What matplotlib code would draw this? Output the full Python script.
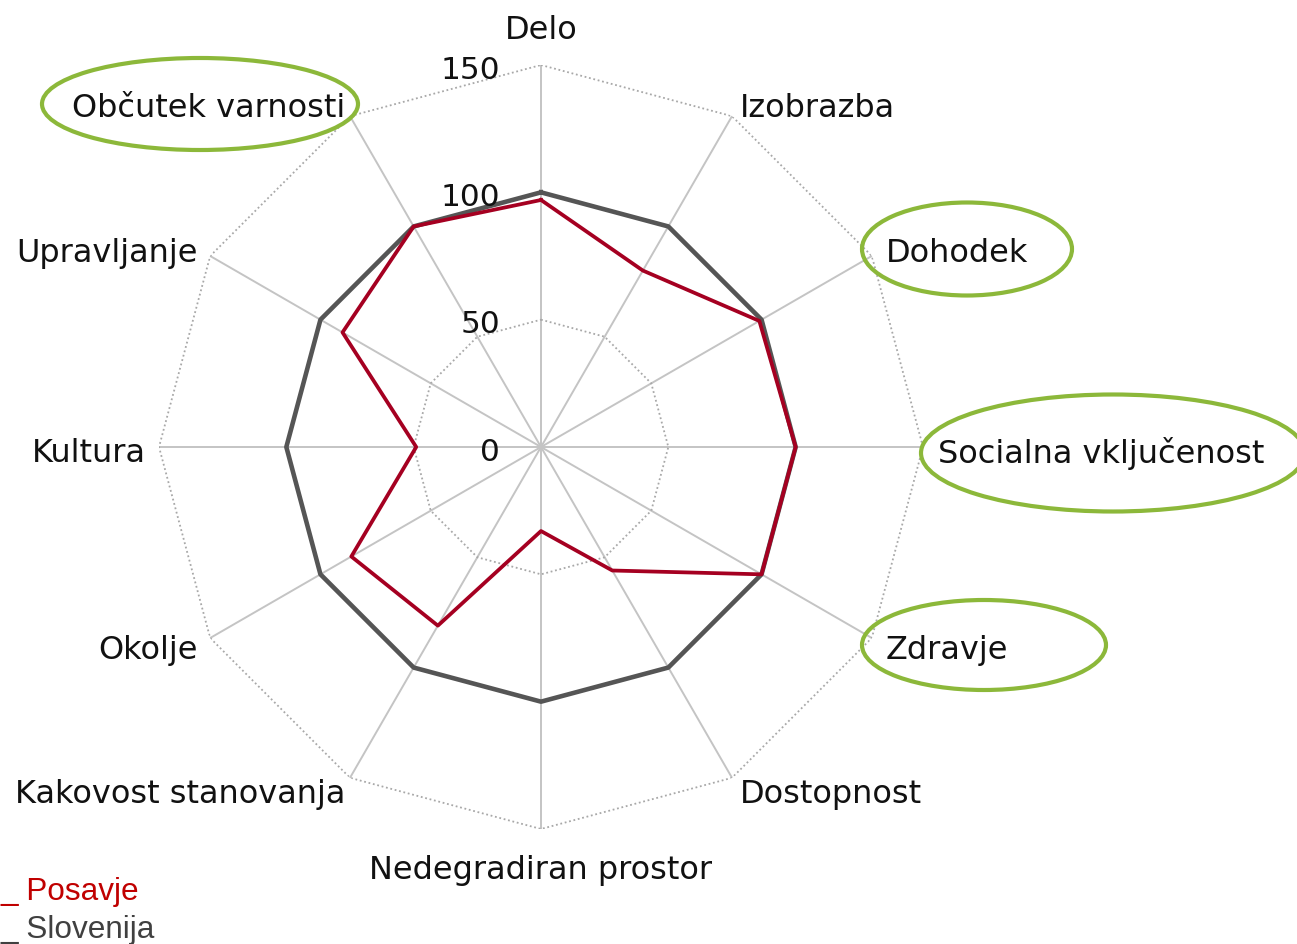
import numpy as np
import matplotlib
matplotlib.use('Agg')
import matplotlib.pyplot as plt
from matplotlib.patches import Ellipse

# podatki
categories = ['Delo', 'Izobrazba', 'Dohodek', 'Socialna vključenost', 'Zdravje',
              'Dostopnost', 'Nedegradiran prostor', 'Kakovost stanovanja',
              'Okolje', 'Kultura', 'Upravljanje', 'Občutek varnosti']
posavje = [97, 80, 99, 100, 100, 56, 33, 81, 86, 49, 90, 100]
slovenija = [100, 100, 100, 100, 100, 100, 100, 100, 100, 100, 100, 100]
rings = [50, 100, 150]
tick_values = [150, 100, 50, 0]

# odmiki oznak (piksli) od oglisca na 150
label_offsets = [(0, 35), (8, 8), (14, 3), (15, -6), (14, -12), (8, -17),
                 (0, -41), (-5, -17), (-12, -12), (-13, -6), (-12, 3), (-5, 8)]
highlighted = {'Občutek varnosti': (200, 104, 316, 92),
               'Dohodek': (967, 249, 210, 93),
               'Socialna vključenost': (1113, 453, 384, 117),
               'Zdravje': (984, 645, 244, 90)}

W, H = 1297, 944
fig = plt.figure(figsize=(W / 100, H / 100), dpi=100, facecolor='white')
cx, cy, R = 541, 447, 382
ax = fig.add_axes([(cx - R) / W, (H - cy - R) / H, 2 * R / W, 2 * R / H], projection='polar')
ax.set_theta_offset(np.pi / 2)
ax.set_theta_direction(-1)
ax.set_ylim(0, 150)
ax.set_axis_off()

n = len(categories)
angles = np.linspace(0, 2 * np.pi, n, endpoint=False)
closed = np.append(angles, angles[0])

# mreza
for a in angles:
    ax.plot([a, a], [0, 150], color='#c4c4c4', lw=1.4, zorder=1)
for r in rings:
    ax.plot(closed, [r] * (n + 1), color='#a8a8a8', lw=1.3, ls=(0, (1, 1.5)), zorder=1)

# serije
ax.plot(closed, slovenija + slovenija[:1], color='#555555', lw=3.3, zorder=3)
ax.plot(closed, posavje + posavje[:1], color='#a50021', lw=2.7, zorder=4)

# oznake osi
for a, name, (dx, dy) in zip(angles, categories, label_offsets):
    ha = 'center' if dx == 0 else ('left' if dx > 0 else 'right')
    ax.annotate(name, xy=(a, 150), xytext=(dx, dy), textcoords='offset pixels',
                ha=ha, va='center', fontsize=23, color='#111111',
                family='DejaVu Sans', annotation_clip=False, zorder=5)

# vrednosti na skali
for v in tick_values:
    ax.annotate(str(v), xy=(0, v), xytext=(-41, -5), textcoords='offset pixels',
                ha='right', va='center', fontsize=22.5, color='#111111',
                annotation_clip=False, zorder=5)

# zelene elipse
for name, (ex, ey, ew, eh) in highlighted.items():
    fig.add_artist(Ellipse((ex / 100, (H - ey) / 100), ew / 100, eh / 100,
                           transform=fig.dpi_scale_trans, fill=False,
                           edgecolor='#8cb83a', lw=3))

# legenda
fig.text(0, (H - 900) / H, '_ Posavje', color='#c00000', fontsize=22.7,
         family='Liberation Sans', ha='left', va='baseline')
fig.text(0, (H - 938) / H, '_ Slovenija', color='#404040', fontsize=22.7,
         family='Liberation Sans', ha='left', va='baseline')

fig.savefig('out.png', dpi=100, facecolor='white')
